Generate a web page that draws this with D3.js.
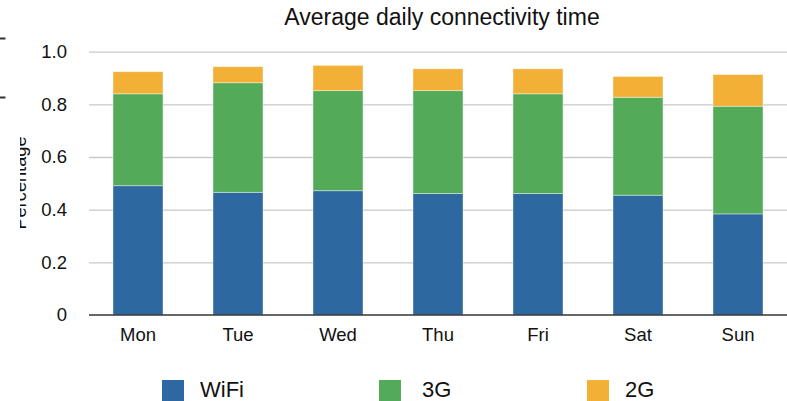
<!DOCTYPE html>
<html>
    <head>
        <script src="https://d3js.org/d3.v7.min.js"></script>
        <style>
            body { margin: 0; background: #fff; }
            text { font-family: "Liberation Sans", Arial, Helvetica, sans-serif; fill: #111; }
        </style>
    </head>
    <body>
        <script>
            // chart values
            let days = ["Mon", "Tue", "Wed", "Thu", "Fri", "Sat", "Sun"];
            let seriesNames = ["WiFi", "3G", "2G"];
            let wifi = [0.491, 0.466, 0.472, 0.461, 0.461, 0.455, 0.384];
            let threeG = [0.349, 0.416, 0.380, 0.391, 0.379, 0.372, 0.409];
            let twoG = [0.084, 0.061, 0.096, 0.083, 0.095, 0.079, 0.120];
            let yTicks = [0, 0.2, 0.4, 0.6, 0.8, 1.0];
            let yTickLabels = ["0", "0.2", "0.4", "0.6", "0.8", "1.0"];

            let colors = ["#2d68a0", "#53ab5a", "#f2b036"];

            var width = 787;
            var height = 401;

            var svg = d3.select('body').append('svg')
                    .attr('width', width)
                    .attr('height', height);

            // build rows for d3.stack
            let rows = days.map(function (d, i) {
                return { day: d, "WiFi": wifi[i], "3G": threeG[i], "2G": twoG[i] };
            });
            let stacked = d3.stack().keys(seriesNames)(rows);

            var x = d3.scaleBand()
                    .domain(days)
                    .range([88, 788])
                    .paddingInner(0.5)
                    .paddingOuter(0.25);

            var y = d3.scaleLinear()
                    .domain([0, 1])
                    .range([315, 51.7]);

            // gridlines
            svg.append('g')
                    .attr('transform', 'translate(89,0)')
                    .call(d3.axisRight(y).tickValues(yTicks.slice(1)).tickSize(698).tickFormat(''))
                    .call(function (g) {
                        g.select('.domain').remove();
                        g.selectAll('line').attr('stroke', '#c9c9c9').attr('stroke-width', 1.3);
                    });

            // y tick labels
            svg.append('g')
                    .attr('transform', 'translate(89,0)')
                    .call(d3.axisLeft(y).tickValues(yTicks).tickSize(0).tickPadding(22)
                        .tickFormat(function (d, i) { return yTickLabels[i]; }))
                    .call(function (g) {
                        g.select('.domain').remove();
                        g.selectAll('text').attr('font-size', '18.5px').attr('fill', '#111');
                    });

            // stacked bars
            svg.append('g')
                    .selectAll('g')
                    .data(stacked)
                    .enter()
                    .append('g')
                    .attr('fill', function (d, i) { return colors[i]; })
                    .selectAll('rect')
                    .data(function (d) { return d; })
                    .enter()
                    .append('rect')
                    .attr('x', function (d) { return x(d.data.day); })
                    .attr('y', function (d) { return y(d[1]); })
                    .attr('width', x.bandwidth())
                    .attr('height', function (d) { return y(d[0]) - y(d[1]); })
                    .attr('stroke', '#ffffff')
                    .attr('stroke-opacity', 0.5)
                    .attr('stroke-width', 0.8);

            // x axis with day labels
            svg.append('g')
                    .attr('transform', 'translate(0,315)')
                    .call(d3.axisBottom(x).tickSize(0).tickPadding(12.5))
                    .call(function (g) {
                        g.select('.domain').attr('d', 'M89,0H787').attr('stroke', '#333').attr('stroke-width', 1.6);
                        g.selectAll('text').attr('font-size', '18.5px').attr('fill', '#111');
                    });

            // title
            svg.append('text')
                    .attr('x', 442)
                    .attr('y', 25)
                    .attr('text-anchor', 'middle')
                    .attr('font-size', '23px')
                    .text('Average daily connectivity time');

            // y label, clipped on the left like in the picture
            svg.append('clipPath')
                    .attr('id', 'ylabClip')
                    .append('rect')
                    .attr('x', 20).attr('y', 100).attr('width', 40).attr('height', 160);
            svg.append('g')
                    .attr('clip-path', 'url(#ylabClip)')
                    .append('text')
                    .attr('transform', 'translate(25.5,183) rotate(-90)')
                    .attr('text-anchor', 'middle')
                    .attr('font-size', '18.2px')
                    .text('Percentage');

            // stray tick marks at the left edge
            svg.append('g')
                    .selectAll('line')
                    .data([38.5, 97.5])
                    .enter()
                    .append('line')
                    .attr('x1', 0).attr('x2', 5.5)
                    .attr('y1', function (d) { return d; })
                    .attr('y2', function (d) { return d; })
                    .attr('stroke', '#333')
                    .attr('stroke-width', 2);

            // legend
            let legendX = [162, 379, 587];
            let legend = svg.append('g')
                    .selectAll('g')
                    .data(seriesNames)
                    .enter()
                    .append('g')
                    .attr('transform', function (d, i) { return 'translate(' + legendX[i] + ',380)'; });
            legend.append('rect')
                    .attr('width', 22)
                    .attr('height', 22)
                    .attr('fill', function (d, i) { return colors[i]; });
            legend.append('text')
                    .attr('x', function (d, i) { return i == 1 ? 43 : 38; })
                    .attr('y', 16.5)
                    .attr('font-size', '22px')
                    .text(function (d) { return d; });
        </script>
    </body>
</html>
